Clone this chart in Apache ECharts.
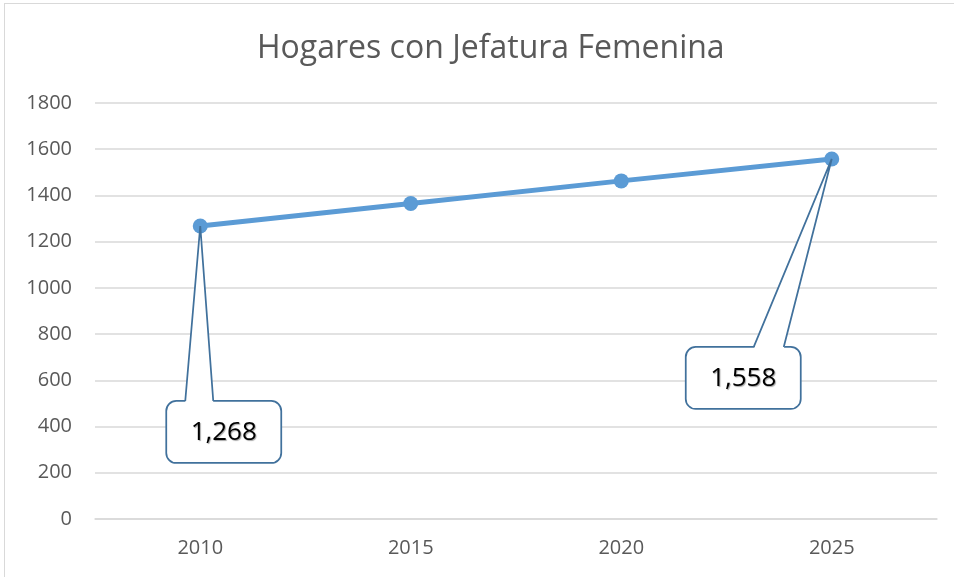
<!DOCTYPE html>
<html>
<head>
<meta charset="utf-8">
<script src="https://cdn.jsdelivr.net/npm/echarts@6/dist/echarts.min.js"></script>
<style>
  html, body { margin: 0; padding: 0; background: #fff; overflow: hidden; }
  #chart { position: absolute; left: 0; top: 0; width: 954px; height: 577px; }
  #frame { position: absolute; left: 4px; top: 3px; width: 1000px; height: 1000px;
           border: 1px solid #d9d9d9; pointer-events: none; }
</style>
</head>
<body>
<div id="chart"></div>
<div id="frame"></div>
<script>
// data
const years = ['2010', '2015', '2020', '2025']
const hogares = [1268, 1365, 1463, 1558]
const calloutIndex = [0, 3] // points that carry a callout label
const yMin = 0
const yMax = 1800
const yStep = 200

const titleText = 'Hogares con Jefatura Femenina'
const lineColor = '#5b9bd5'
const calloutBorder = '#41719c'
const textColor = '#595959'
const gridColor = '#d9d9d9'

// callout placement relative to its point (layout only)
const calloutLayout = {
  0: { dx: -34, dy: 175, b0: -15, b1: 13 },
  3: { dx: -146, dy: 188, b0: -78, b1: -48 }
}

const chart = echarts.init(document.getElementById('chart'))

function renderCallout(params, api) {
  const idx = api.value(0)
  const val = api.value(1)
  const pt = api.coord([idx, val])
  const o = calloutLayout[idx]
  const w = 115
  const h = 62
  const x = pt[0] + o.dx
  const y = pt[1] + o.dy
  const a = [pt[0] + o.b0, y]
  const b = [pt[0] + o.b1, y]
  return {
    type: 'group',
    children: [
      {
        type: 'rect',
        shape: { x: x, y: y, width: w, height: h, r: 10 },
        style: { fill: '#fff', stroke: calloutBorder, lineWidth: 1.75 }
      },
      {
        type: 'polygon',
        shape: { points: [[a[0], y + 2], pt, [b[0], y + 2]] },
        style: { fill: '#fff', stroke: null }
      },
      {
        type: 'polyline',
        shape: { points: [a, pt, b] },
        style: { fill: null, stroke: calloutBorder, lineWidth: 1.75 }
      },
      {
        type: 'text',
        style: {
          text: val.toLocaleString('en-US'),
          x: x + w / 2,
          y: y + h / 2 + 1,
          align: 'center',
          verticalAlign: 'middle',
          font: '26px "Open Sans"',
          fill: '#000',
          textShadowColor: 'rgba(0,0,0,0.35)',
          textShadowOffsetX: 1,
          textShadowOffsetY: 1,
          textShadowBlur: 1
        }
      }
    ]
  }
}

chart.setOption({
  animation: false,
  title: {
    text: titleText,
    left: 252,
    top: 28,
    textStyle: {
      fontFamily: 'Open Sans',
      fontSize: 32,
      fontWeight: 'normal',
      color: textColor
    }
  },
  grid: {
    left: 95,
    right: 17,
    top: 103,
    bottom: 58
  },
  xAxis: {
    type: 'category',
    data: years,
    boundaryGap: true,
    axisLine: { lineStyle: { color: gridColor, width: 1.5 } },
    axisTick: { show: false },
    axisLabel: {
      margin: 19,
      color: textColor,
      fontFamily: 'Open Sans',
      fontSize: 20
    }
  },
  yAxis: {
    type: 'value',
    min: yMin,
    max: yMax,
    interval: yStep,
    axisLine: { show: false },
    axisTick: { show: false },
    splitLine: { lineStyle: { color: gridColor, width: 1.5 } },
    axisLabel: {
      margin: 23,
      color: textColor,
      fontFamily: 'Open Sans',
      fontSize: 20,
      formatter: v => String(v)
    }
  },
  series: [
    {
      type: 'line',
      data: hogares,
      symbol: 'circle',
      symbolSize: 15,
      lineStyle: { color: lineColor, width: 5 },
      itemStyle: { color: lineColor },
      z: 2
    },
    {
      type: 'custom',
      coordinateSystem: 'cartesian2d',
      data: calloutIndex.map(i => [i, hogares[i]]),
      encode: { x: 0, y: 1 },
      renderItem: renderCallout,
      clip: false,
      z: 5
    }
  ]
})
</script>
</body>
</html>
